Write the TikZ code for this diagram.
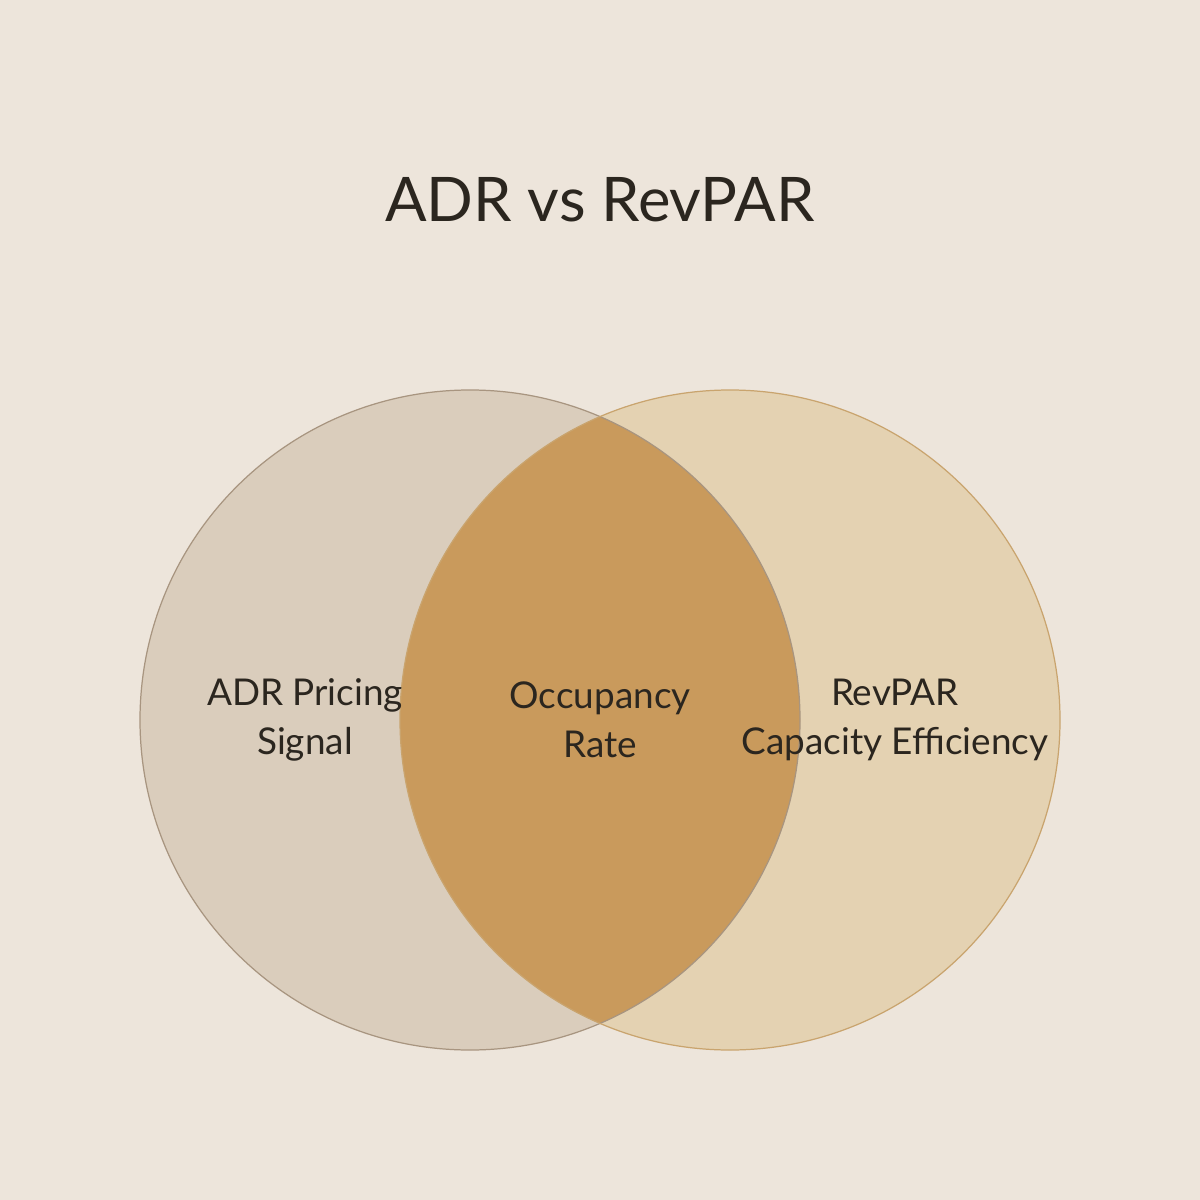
\documentclass[tikz,border=0pt]{standalone}
\usepackage{fontspec}
\setmainfont{Lato}
\definecolor{paper}{HTML}{EDE5DB}
\definecolor{adrfill}{HTML}{DACDBC}
\definecolor{adrline}{HTML}{A89580}
\definecolor{revfill}{HTML}{E4D2B2}
\definecolor{revline}{HTML}{C9A46E}
\definecolor{both}{HTML}{C99A5C}
\definecolor{ink}{HTML}{2B261F}
\tikzset{
  lbl/.style={text=ink, align=center, font=\fontsize{21}{28}\selectfont},
}
\begin{document}
\begin{tikzpicture}
    \fill[paper] (0,0) rectangle (24,-24);
    \useasboundingbox (0,0) rectangle (24,-24);
    \node[text=ink, font=\fontsize{35}{40}\selectfont] (title) at (12,-4) {ADR vs RevPAR};
    \fill[adrfill] (9.4,-14.4) circle (6.6);
    \fill[revfill] (14.6,-14.4) circle (6.6);
    \begin{scope}
        \clip (9.4,-14.4) circle (6.6);
        \fill[both] (14.6,-14.4) circle (6.6);
    \end{scope}
    \draw[adrline, line width=0.7pt] (9.4,-14.4) circle (6.6);
    \draw[revline, line width=0.7pt] (14.6,-14.4) circle (6.6);
    \node[lbl] (adr) at (6.1,-14.4) {ADR Pricing\\Signal};
    \node[lbl] (occ) at (12,-14.4) {Occupancy\\Rate};
    \node[lbl] (rev) at (17.9,-14.4) {RevPAR\\Capacity Efficiency};
\end{tikzpicture}
\end{document}
